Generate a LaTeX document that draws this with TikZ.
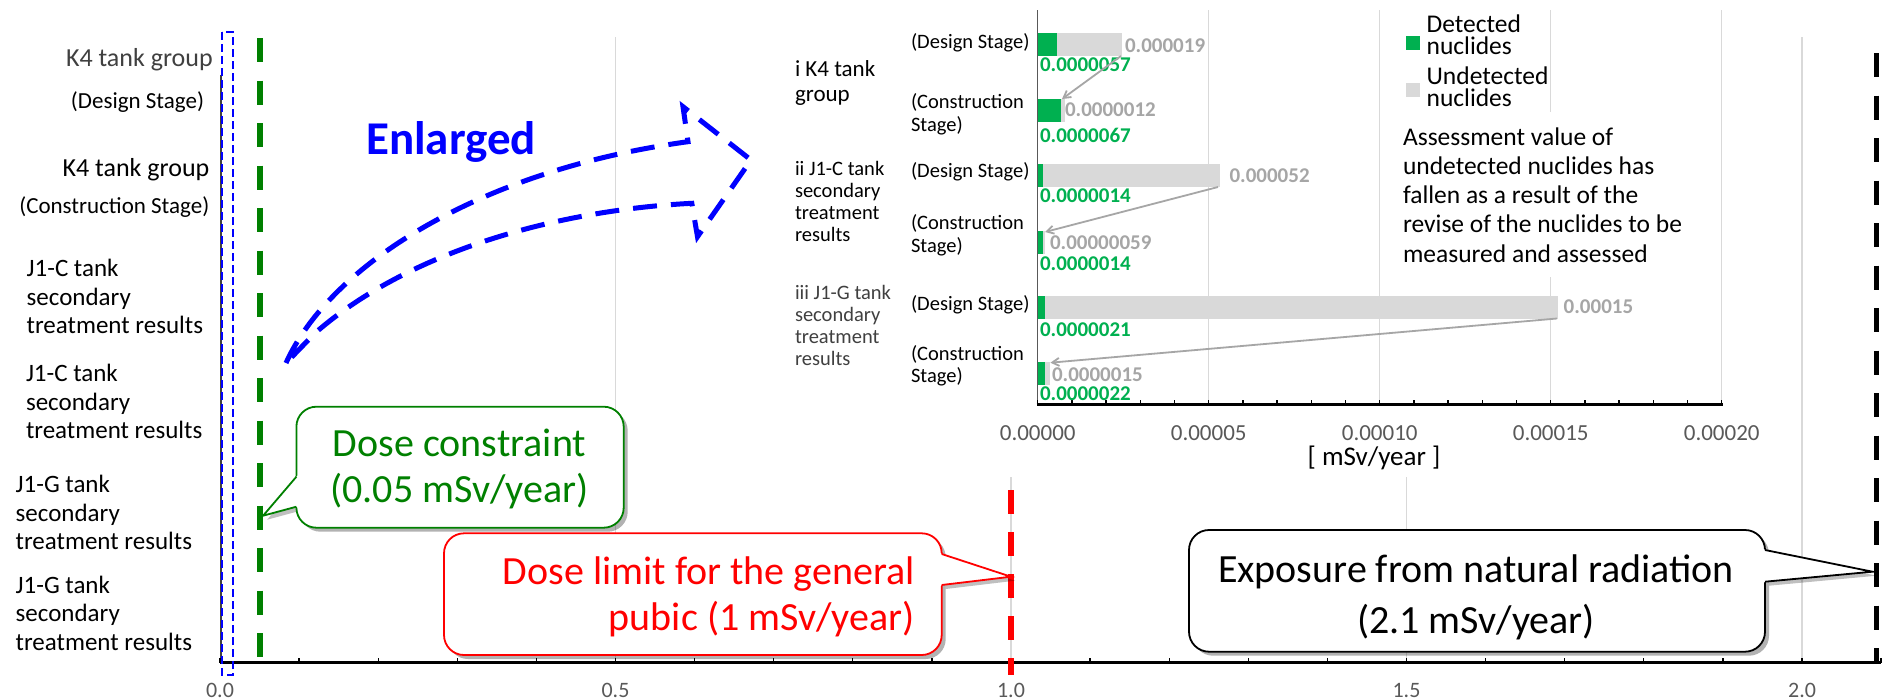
\documentclass[tikz,border=0pt]{standalone}
\usepackage{fontspec}
\setmainfont{Carlito}
\usetikzlibrary{arrows.meta,shadows}
\definecolor{dgreen}{RGB}{0,128,0}
\definecolor{bgreen}{RGB}{0,176,80}
\definecolor{lgray}{RGB}{217,217,217}
\definecolor{mgray}{RGB}{166,166,166}
\definecolor{tgray}{RGB}{64,64,64}
\definecolor{agray}{RGB}{89,89,89}
\newcommand{\fsz}[2]{\fontsize{#1}{#2}\selectfont}
\begin{document}
\begin{tikzpicture}[x=1pt,y=-1pt,
  txt/.style={inner sep=0pt, outer sep=0pt},
  gridl/.style={lgray, line width=1.5pt},
  valg/.style={txt, anchor=west, font=\bfseries\fsz{21}{24}, text=mgray},
  valn/.style={txt, anchor=west, font=\bfseries\fsz{21}{24}, text=bgreen},
  cat/.style={txt, anchor=west, align=left, font=\fsz{20.5}{22.5}},
  grp/.style={txt, anchor=west, align=left, font=\fsz{20.5}{22.3}},
  mainlbl/.style={txt, anchor=west, align=left, font=\fsz{25}{28.3}},
  ticklbl/.style={txt, anchor=center, font=\fsz{22}{24}, text=agray},
  tickmark/.style={line width=1.3pt},
  chg/.style={mgray, line width=1.8pt, -{Straight Barb[length=7pt,width=8pt]}},
  callbox/.style={draw, line width=1.8pt, fill=white, rounded corners=20pt, inner sep=0pt,
     drop shadow={shadow xshift=4pt, shadow yshift=-4pt, opacity=0.3, fill=black}},
  calltxt/.style={txt, font=\fsz{40}{46}},
]
\useasboundingbox (0,0) rectangle (1884,699);
\fill[white] (0,0) rectangle (1884,699);

% ---------- main gridlines ----------
\foreach \v in {0.5,1,1.5,2} \draw[gridl] ({220+791*\v},37) -- ({220+791*\v},662.7);

% ---------- inset ----------
\fill[white] (770,0) rectangle (1795,477);
\foreach \k in {1,...,4} \draw[gridl] ({1037.7+171*\k},10) -- ({1037.7+171*\k},404.5);
% legend and note backgrounds
\fill[white] (1400,8) rectangle (1545,110);
\fill[white] (1398,112) rectangle (1712,277);

% bars
\fill[bgreen] (1037.7,32.5) rectangle ++(19.5,23);
\fill[lgray]  (1057.2,32.5) rectangle ++(65,23);
\fill[bgreen] (1037.7,98.5) rectangle ++(22.9,23);
\fill[lgray]  (1060.6,98.5) rectangle ++(4.1,23);
\fill[bgreen] (1037.7,163.5) rectangle ++(4.8,23);
\fill[lgray]  (1042.5,163.5) rectangle ++(177.8,23);
\fill[bgreen] (1037.7,230.5) rectangle ++(4.8,23);
\fill[lgray]  (1042.5,230.5) rectangle ++(2.0,23);
\fill[bgreen] (1037.7,295.5) rectangle ++(7.2,23);
\fill[lgray]  (1044.9,295.5) rectangle ++(513,23);
\fill[bgreen] (1037.7,361.5) rectangle ++(7.5,23);
\fill[lgray]  (1045.2,361.5) rectangle ++(5.1,23);

% inset axes
\draw[agray, line width=1.5pt] (1037.7,10) -- (1037.7,404.5);
\draw[black, line width=2.5pt] (1036.5,404.5) -- (1722.5,404.5);
\foreach \i in {0,...,20} \draw[tickmark] ({1037.7+34.2*\i},404.5) -- ++(0,-5);
\foreach \k/\t in {0/0.00000,1/0.00005,2/0.00010,3/0.00015,4/0.00020}
  \node[ticklbl, font=\fsz{23}{25}] (it\k) at ({1037.7+171*\k},433) {\t};
\node[txt, font=\fsz{27}{30}] (iunit) at (1374,458) {[ mSv/year ]};

% values
\node[valg] (g1) at (1125,46) {0.000019};
\node[valg] (g2) at (1065,110) {0.0000012};
\node[valg] (g3) at (1229.5,176) {0.000052};
\node[valg] (g4) at (1050,243) {0.00000059};
\node[valg] (g5) at (1563.7,307) {0.00015};
\node[valg] (g6) at (1052,375) {0.0000015};
\node[valn] (n1) at (1040,65) {0.0000057};
\node[valn] (n2) at (1040,135.7) {0.0000067};
\node[valn] (n3) at (1040,196) {0.0000014};
\node[valn] (n4) at (1040,263.3) {0.0000014};
\node[valn] (n5) at (1040,330) {0.0000021};
\node[valn] (n6) at (1040,393.3) {0.0000022};

% categories
\node[cat] (c1) at (911,42.7) {(Design Stage)};
\node[cat] (c2) at (911,114.5) {(Construction\\Stage)};
\node[cat] (c3) at (911,172) {(Design Stage)};
\node[cat] (c4) at (911,235.3) {(Construction\\Stage)};
\node[cat] (c5) at (911,305) {(Design Stage)};
\node[cat] (c6) at (911,365.8) {(Construction\\Stage)};
\node[grp, font=\fsz{23}{25}] (gr1) at (795,82.5) {i K4 tank\\group};
\node[grp] (gr2) at (795,201.5) {ii J1-C tank\\secondary\\treatment\\results};
\node[grp, text=tgray] (gr3) at (795,325.5) {iii J1-G tank\\secondary\\treatment\\results};

% change arrows
\coordinate (a1s) at (1121,56);   \coordinate (a1e) at (1062,99);
\coordinate (a2s) at (1218,187);  \coordinate (a2e) at (1045,232);
\coordinate (a3s) at (1557,318.5);\coordinate (a3e) at (1050.4,362.7);
\draw[chg] (a1s) -- (a1e);
\draw[chg] (a2s) -- (a2e);
\draw[chg] (a3s) -- (a3e);

% legend
\fill[bgreen] (1406,35.5) rectangle (1420,49.5);
\fill[lgray] (1406,83) rectangle (1420,97);
\node[txt, anchor=west, align=left, font=\fsz{25.5}{22.4}] (lg1) at (1426.6,34.5) {Detected\\nuclides};
\node[txt, anchor=west, align=left, font=\fsz{25.5}{22.4}] (lg2) at (1426.6,87) {Undetected\\nuclides};
\node[txt, anchor=west, align=left, font=\fsz{25.5}{29.2}] (note) at (1403,195)
  {Assessment value of\\undetected nuclides has\\fallen as a result of the\\revise of the nuclides to be\\measured and assessed};

% ---------- main axes ----------
\draw[tgray, line width=1.5pt] (221,75) -- (221,662.7);
\draw[black, line width=2.5pt] (220,662.7) -- (1881,662.7);
\foreach \i in {0,...,21} \draw[tickmark] ({220+79.1*\i},662.7) -- ++(0,-5);
\foreach \v/\t/\n in {0/0.0/a,0.5/0.5/b,1/1.0/c,1.5/1.5/d,2/2.0/e}
  \node[ticklbl] (mt\n) at ({220+791*\v},690) {\t};

% ---------- left labels ----------
\node[txt, anchor=east, font=\fsz{26}{30}, text=tgray] (k4a) at (212.7,60) {K4 tank group};
\node[txt, anchor=east, font=\fsz{23}{26}] (k4as) at (204,101.7) {(Design Stage)};
\node[txt, anchor=east, font=\fsz{26}{30}] (k4b) at (209.3,170) {K4 tank group};
\node[txt, anchor=east, font=\fsz{23}{26}] (k4bs) at (209.3,206.7) {(Construction Stage)};
\node[mainlbl] (j1c1) at (26.7,296.7) {J1-C tank\\secondary\\treatment results};
\node[mainlbl] (j1c2) at (26,401.7) {J1-C tank\\secondary\\treatment results};
\node[mainlbl] (j1g1) at (15.7,512.5) {J1-G tank\\secondary\\treatment results};
\node[mainlbl] (j1g2) at (15.7,613.3) {J1-G tank\\secondary\\treatment results};

% ---------- reference lines ----------
\draw[blue, line width=2.5pt, dash pattern=on 8pt off 4pt] (222,32) rectangle (233,675);
\draw[dgreen, line width=6pt, dash pattern=on 24pt off 18.5pt] (260,38) -- (260,662);
\draw[red, line width=6pt, dash pattern=on 24pt off 18pt] (1011,490) -- (1011,675);
\draw[black, line width=5pt, dash pattern=on 24pt off 18.5pt] (1876,53) -- (1876,662);

% ---------- enlarged arrow ----------
\draw[blue, line width=5pt, dash pattern=on 24pt off 14pt, line join=miter]
  (286,363) .. controls (330,265) and (480,170) .. (688,141.7)
  -- (683,106.7) -- (751,160) -- (697.5,236.7) -- (691.8,203.3)
  .. controls (560,210) and (410,250) .. (314.8,333.3) -- cycle;
\node[txt, font=\bfseries\fsz{47}{50}, text=blue] (enl) at (451,141.7) {Enlarged};

% ---------- callouts ----------
% green
\coordinate (gp1) at (296.4,476.7); \coordinate (gtip) at (263.1,515.7); \coordinate (gp2) at (296.4,506.7);
\fill[black, opacity=0.25] (300.4,480.7) -- (267.1,519.7) -- (300.4,510.7) -- cycle;
\node[callbox, draw=dgreen, minimum width=327.3pt, minimum height=121pt] (gbox) at (460.05,467.2) {};
\fill[white] (299,474.5) -- (gp1) -- (gtip) -- (gp2) -- (299,508.9) -- cycle;
\draw[dgreen, line width=1.8pt, line join=miter] (gp1) -- (gtip) -- (gp2);
\node[calltxt, text=dgreen, align=center] (gtxt) at (459.5,469.2) {Dose constraint\\(0.05 mSv/year)};

% red
\coordinate (rp1) at (941.7,554); \coordinate (rtip) at (1011,576.7); \coordinate (rp2) at (941.7,585);
\fill[black, opacity=0.25] (945.7,558) -- (1015,580.7) -- (945.7,589) -- cycle;
\node[callbox, draw=red, minimum width=497.7pt, minimum height=121.7pt] (rbox) at (692.85,594.15) {};
\fill[white] (939,551.8) -- (rp1) -- (rtip) -- (rp2) -- (939,587.2) -- cycle;
\draw[red, line width=1.8pt, line join=miter] (rp1) -- (rtip) -- (rp2);
\node[calltxt, text=red, align=right, anchor=east, font=\fsz{40}{46.7}] (rtxt) at (914.7,596.7) {Dose limit for the general\\pubic (1 mSv/year)};

% black
\coordinate (bp1) at (1765,550); \coordinate (btip) at (1872.5,571.7); \coordinate (bp2) at (1765,581.7);
\fill[black, opacity=0.25] (1769,554) -- (1876.5,575.7) -- (1769,585.7) -- cycle;
\node[callbox, draw=black, minimum width=576pt, minimum height=121.7pt] (bbox) at (1477,590.85) {};
\fill[white] (1762.3,547.8) -- (bp1) -- (btip) -- (bp2) -- (1762.3,583.9) -- cycle;
\draw[black, line width=1.8pt, line join=miter] (bp1) -- (btip) -- (bp2);
\node[calltxt, align=center, font=\fsz{40}{51.6}] (btxt) at (1476,597.5) {Exposure from natural radiation\\(2.1 mSv/year)};
\end{tikzpicture}
\end{document}
